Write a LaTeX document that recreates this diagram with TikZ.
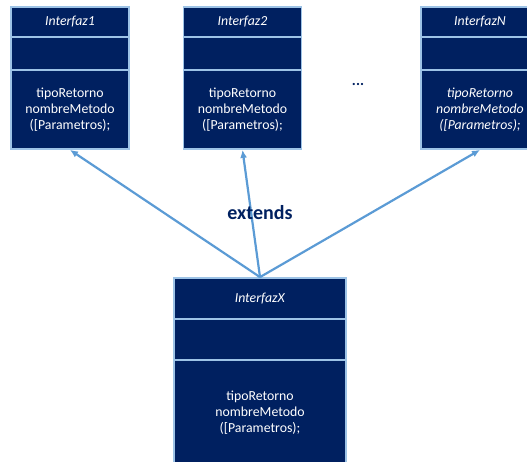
\documentclass[tikz,border=0pt]{standalone}
\usepackage{fontspec}
\setmainfont{Carlito}
\usetikzlibrary{arrows.meta}

\definecolor{fondo}{RGB}{0,32,96}
\definecolor{borde}{RGB}{157,195,230}
\definecolor{flecha}{RGB}{91,155,213}

\tikzset{
    caja/.style={draw=borde,fill=fondo,line width=1.8pt,text=white,
        inner sep=0pt,align=center,font=\fontsize{13.8}{16}\selectfont},
    herencia/.style={draw=flecha,line width=2.2pt,
        -{Latex[length=8pt,width=7pt]}}
}

\begin{document}
\begin{tikzpicture}[x=1pt,y=-1pt]
    \useasboundingbox (0,0) rectangle (527,461);
    \clip (0,0) rectangle (527,461);
    % interfaces padre
    \node[caja,minimum width=118pt,minimum height=30pt] (i1h) at (70,22) {\textit{Interfaz1}};
    \node[caja,minimum width=118pt,minimum height=33pt] (i1a) at (70,53.5) {};
    \node[caja,minimum width=118pt,minimum height=79pt] (i1m) at (70,109.5) {tipoRetorno\\nombreMetodo\\({[}Parametros);};
    \node[caja,minimum width=118pt,minimum height=30pt] (i2h) at (242.5,22) {\textit{Interfaz2}};
    \node[caja,minimum width=118pt,minimum height=33pt] (i2a) at (242.5,53.5) {};
    \node[caja,minimum width=118pt,minimum height=79pt] (i2m) at (242.5,109.5) {tipoRetorno\\nombreMetodo\\({[}Parametros);};
    \node[caja,minimum width=118pt,minimum height=30pt] (iNh) at (480,22) {\textit{InterfazN}};
    \node[caja,minimum width=118pt,minimum height=33pt] (iNa) at (480,53.5) {};
    \node[caja,minimum width=118pt,minimum height=79pt] (iNm) at (480,109.5) {\itshape tipoRetorno\\\itshape nombreMetodo\\\itshape ({[}Parametros);};
    \node[text=fondo,font=\bfseries\fontsize{15}{18}\selectfont] (puntos) at (358,84) {...};
    % interfaz hija
    \node[caja,minimum width=172pt,minimum height=41pt] (ixh) at (260,298.5) {\textit{InterfazX}};
    \node[caja,minimum width=172pt,minimum height=41pt] (ixa) at (260,339.5) {};
    \node[caja,minimum width=172pt,minimum height=106pt] (ixm) at (260,413) {tipoRetorno\\nombreMetodo\\({[}Parametros);};
    \draw[herencia] (ixh.north) -- (i1m.south);
    \draw[herencia] (ixh.north) -- (i2m.south);
    \draw[herencia] (ixh.north) -- (iNm.south);
    \node[text=fondo,font=\bfseries\fontsize{20}{24}\selectfont] (extends) at (260,213) {extends};
\end{tikzpicture}
\end{document}
